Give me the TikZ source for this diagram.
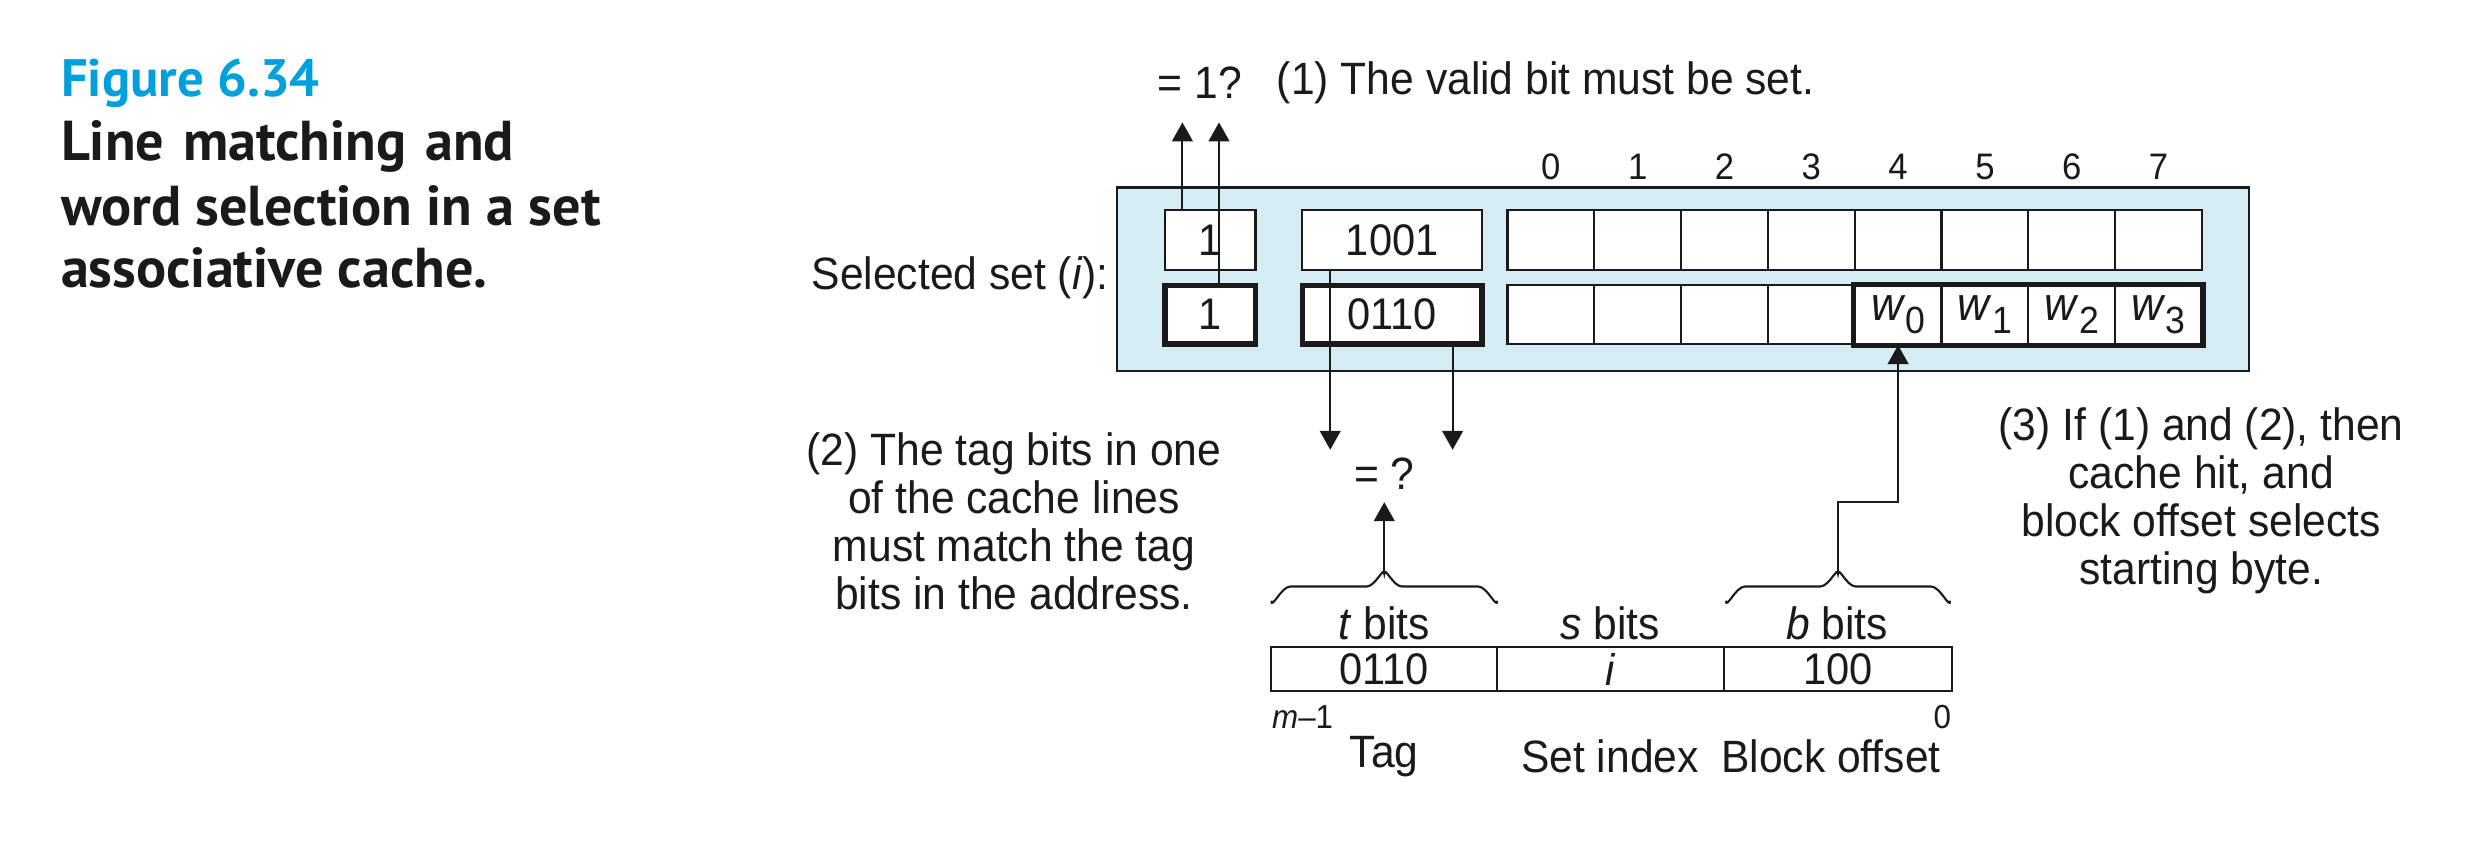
\documentclass[tikz,border=0pt]{standalone}
\usepackage{fontspec}
\setmainfont{Liberation Sans}[FakeStretch=0.94]
\newfontfamily\titlefont{PT Sans}
\usetikzlibrary{arrows.meta,fit}
\definecolor{figblue}{RGB}{0,160,220}
\definecolor{setblue}{RGB}{214,236,243}
\definecolor{ink}{RGB}{26,26,26}
\newcommand\wsub[1]{\textit{w}\raisebox{-0.5ex}{\fontsize{10.8}{12}\selectfont #1}}
\begin{document}
\begin{tikzpicture}[x=0.0159cm,y=-0.0159cm,
  every node/.style={inner sep=0pt,text=ink},
  cell/.style={draw=ink,line width=0.6pt,fill=white,inner sep=0pt},
  boldcell/.style={cell,line width=1.5pt},
  field/.style={draw=ink,line width=0.6pt,inner sep=0pt},
  ctext/.style={font=\fontsize{12.6}{14}\selectfont},
  note/.style={font=\fontsize{12.9}{13.6}\selectfont,align=center},
  small/.style={font=\fontsize{9.5}{11}\selectfont},
  conn/.style={draw=ink,line width=0.6pt},
  arr/.style={conn,-{Triangle[width=5.9pt,length=5.4pt]}},
  brace/.style={draw=ink,line width=0.6pt},
  ttl/.style={font=\titlefont\bfseries\fontsize{16}{18}\selectfont,anchor=base west}
]
\useasboundingbox (0,0) rectangle (1568,532);

% title
\node[ttl,text=figblue,font=\titlefont\bfseries\fontsize{15}{18}\selectfont] (fig) at (38,61) {Figure 6.34};
\node[ttl] (t1) at (38,101) {Line\hspace{1.3pt} matching\hspace{1.3pt} and};
\node[ttl] (t2) at (38,141.6) {word selection in a set};
\node[ttl] (t3) at (38,181) {associative cache.};

% selected set
\node[fill=setblue,draw=ink,line width=0.6pt,fit={(703,118)(1415,233.5)}] (set) {};
\node[note,anchor=east] (sel) at (698,175) {Selected set (\textit{i}):};

% row 1
\node[cell,fit={(733,132)(790,170)}] (v1) {};
\node[cell,fit={(819.5,132)(932.5,170)}] (g1) {};
\node[ctext] (v1t) at (v1.center) {1};
\node[ctext] (g1t) at (g1.center) {1001};
\foreach \k in {0,...,7}{
  \node[cell,fit={({948.5+54.625*\k},132)({948.5+54.625*(\k+1)},170)}] (a\k) {};
  \node[font=\fontsize{10.5}{12}\selectfont] (n\k) at ({975.8+54.625*\k},105) {\k};
}
% row 2
\node[boldcell,fit={(733,179.5)(790,216.5)}] (v2) {};
\node[boldcell,fit={(819.5,179.5)(932.5,216.5)}] (g2) {};
\node[ctext] (v2t) at (v2.center) {1};
\node[ctext] (g2t) at (g2.center) {0110};
\foreach \k in {0,...,7}{
  \node[cell,fit={({948.5+54.625*\k},179.5)({948.5+54.625*(\k+1)},216.5)}] (b\k) {};
}
\foreach \k/\j in {4/0,5/1,6/2,7/3}{
  \node[ctext,font=\fontsize{13.4}{14}\selectfont] (w\j) at (b\k.center) {\wsub{\j}};
}
\node[draw=ink,line width=1.5pt,inner sep=0pt,fit=(b4)(b7)] (wgrp) {};

% valid bit check
\node[note] (eq1) at (755,52) {= 1?};
\node[note,anchor=west] (n1) at (803,52) {(1) The valid bit must be set.};
\coordinate (q1) at (744,77);
\coordinate (q2) at (767,77);
\draw[arr] (v1.north -| q1) -- (q1);
\draw[arr] (v2.north -| q2) -- (q2);

% tag check
\coordinate (d1) at (837,283);
\coordinate (d2) at (914,283);
\draw[arr] (g1.south -| d1) -- (d1);
\draw[arr] (g2.south -| d2) -- (d2);
\node[note] (eq2) at (871,298) {= ?};
\node[note] (n2) at (638,328) {(2) The tag bits in one\\of the cache lines\\must match the tag\\bits in the address.};

% address
\node[field,fit={(800,407)(942,435)}] (f1) {};
\node[field,fit={(942,407)(1085,435)}] (f2) {};
\node[field,fit={(1085,407)(1228,435)}] (f3) {};
\node[ctext] (f1t) at (f1.center) {0110};
\node[ctext] (f2t) at (f2.center) {\textit{i}};
\node[ctext] (f3t) at (f3.center) {100};
\node[note] (l1) at (871,392) {\textit{t} bits};
\node[note] (l2) at (1013,392) {\textit{s} bits};
\node[note] (l3) at (1156,392) {\textit{b} bits};
\node[small,anchor=west] (hi) at (800,451) {\textit{m}–1};
\node[small,anchor=east] (lo) at (1228,451) {0};
\node[note] (x1) at (871,476) {Tag};
\node[note] (x2) at (1013,476) {Set index};
\node[note] (x3) at (1152,476) {Block offset};

% braces
\coordinate (tb) at (871,361);
\coordinate (bb) at (1156.5,361);
\draw[brace] (800,378) to[out=-90,in=180] (812,369) -- (860,369) to[out=0,in=90] (tb)
  to[out=90,in=180] (882,369) -- (930,369) to[out=0,in=-90] (942,378);
\draw[brace] (1086,378) to[out=-90,in=180] (1098,369) -- (1145.5,369) to[out=0,in=90] (bb)
  to[out=90,in=180] (1167.5,369) -- (1215,369) to[out=0,in=-90] (1227,378);
\coordinate (eqin) at (871,316);
\draw[arr] (tb) -- (eqin);
\coordinate (step) at (1156.5,316);
\draw[arr] (bb) -- (step) -| (b4.south);

% hit note
\node[note] (n3) at (1385,315) {(3) If (1) and (2), then\\cache hit, and\\block offset selects\\starting byte.};
\end{tikzpicture}
\end{document}
